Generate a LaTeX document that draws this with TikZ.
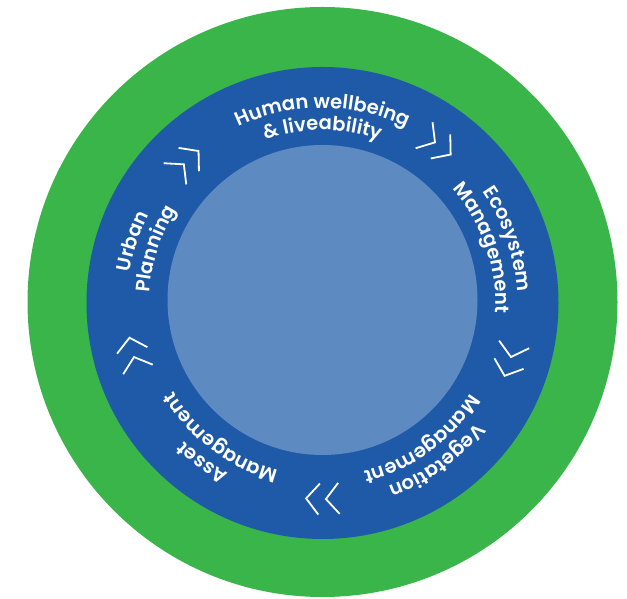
\documentclass[tikz,border=0pt]{standalone}
\usepackage{fontspec}
\usetikzlibrary{decorations.text,calc}
\newfontfamily\lblfont{Poppins SemiBold}
\definecolor{ringgreen}{RGB}{58,181,74}
\definecolor{ringblue}{RGB}{30,90,168}
\definecolor{innerblue}{RGB}{94,138,194}
\tikzset{
  ringtext/.style={decorate, decoration={text along path, text align=center, text color=white,
      text={|\lblfont\fontsize{19.5}{22}\selectfont|#1}}},
  chev/.style={draw=white, line width=1.8pt, line join=miter},
}
\newcommand\labelarc[3]{%
  \path[ringtext={#3}] ($(C)+(#1+90:#2)$) arc[start angle=#1+90, end angle=#1-90, radius=#2];}
\newcommand\chevpair[1]{%
  \foreach \d in {-2.9,2.9}{%
    \draw[chev, shift={($(C)+(#1+\d:196)$)}, rotate=#1+\d-90] (-6.5,15.5) -- (6.5,0) -- (-6.5,-15.5);
  }}
\begin{document}
\begin{tikzpicture}[x=1pt,y=1pt]
\useasboundingbox (0,0) rectangle (627,599);
\coordinate (C) at (322.5,296);
\fill[ringgreen] (322.5,297) circle[radius=295];
\fill[ringblue] (C) circle[radius=236];
\fill[innerblue] (322.5,299) circle[radius=155];
\labelarc{90}{195}{Human wellbeing}
\labelarc{90}{173}{{\&} liveability}
\labelarc{19}{195}{Ecosystem}
\labelarc{19}{173}{Management}
\labelarc{-54}{195}{Vegetation}
\labelarc{-54}{173}{Management}
\labelarc{-127}{195}{Asset}
\labelarc{-127}{173}{Management}
\labelarc{162}{195}{Urban}
\labelarc{162}{173}{Planning}
\chevpair{54}
\chevpair{-17}
\chevpair{-90}
\chevpair{-165}
\chevpair{134}
\end{tikzpicture}
\end{document}
